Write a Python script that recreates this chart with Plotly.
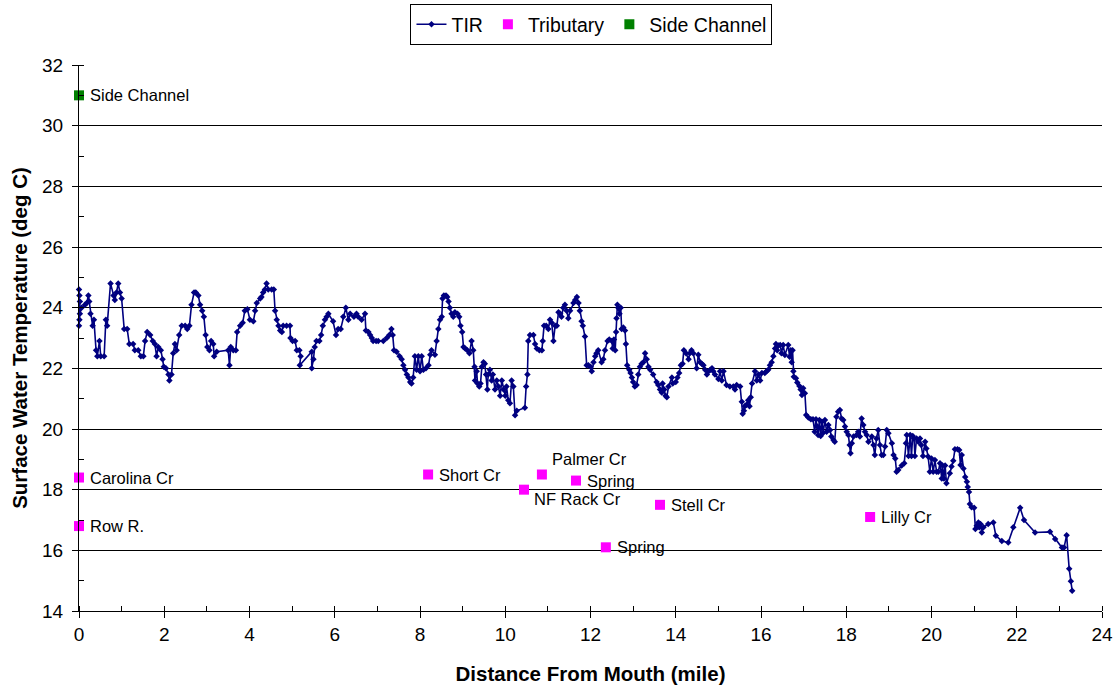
import plotly.graph_objects as go

# ---------------- data ----------------
tir_mile = [
    0.00, 0.00, 0.01, 0.01, 0.02, 0.02, 0.06, 0.14, 0.18, 0.22, 0.24, 0.27, 0.32, 0.35, 0.40, 0.43, 0.48, 0.51, 0.59, 0.63,
    0.66, 0.74, 0.81, 0.84, 0.88, 0.92, 0.96, 1.00, 1.06, 1.13, 1.18, 1.27, 1.31, 1.39, 1.45, 1.51, 1.55, 1.60, 1.67, 1.73,
    1.78, 1.82, 1.86, 1.92, 1.96, 1.99, 2.04, 2.10, 2.12, 2.17, 2.21, 2.25, 2.29, 2.35, 2.41, 2.49, 2.54, 2.59, 2.64, 2.70,
    2.74, 2.80, 2.84, 2.89, 2.93, 2.97, 3.01, 3.06, 3.10, 3.15, 3.17, 3.23, 3.50, 3.53, 3.56, 3.62, 3.68, 3.71, 3.78, 3.84,
    3.89, 3.95, 4.01, 4.09, 4.13, 4.17, 4.25, 4.28, 4.32, 4.36, 4.40, 4.44, 4.52, 4.57, 4.60, 4.64, 4.68, 4.72, 4.76, 4.79,
    4.87, 4.95, 4.96, 5.01, 5.07, 5.11, 5.17, 5.20, 5.18, 5.46, 5.46, 5.50, 5.53, 5.57, 5.64, 5.68, 5.72, 5.77, 5.81, 5.85,
    5.96, 6.03, 6.08, 6.14, 6.20, 6.26, 6.32, 6.36, 6.45, 6.51, 6.55, 6.63, 6.71, 6.73, 6.79, 6.83, 6.87, 6.90, 6.97, 7.02,
    7.14, 7.22, 7.28, 7.33, 7.36, 7.39, 7.45, 7.52, 7.57, 7.61, 7.65, 7.69, 7.73, 7.77, 7.80, 7.84, 7.88, 7.92, 7.96, 8.00,
    8.04, 8.08, 8.14, 8.20, 8.24, 8.27, 8.35, 8.39, 8.43, 8.47, 8.51, 8.53, 8.56, 8.61, 8.64, 8.67, 8.70, 8.74, 8.78, 8.82,
    8.88, 8.92, 8.95, 8.99, 9.02, 9.06, 9.11, 9.16, 9.21, 9.25, 9.28, 9.29, 9.33, 9.35, 9.39, 9.42, 9.45, 9.49, 9.52, 9.55,
    9.58, 9.60, 9.64, 9.68, 9.71, 9.76, 9.80, 9.84, 9.88, 9.92, 9.96, 10.00, 10.03, 10.07, 10.11, 10.15, 10.19, 10.23, 10.27, 10.46,
    10.49, 10.52, 10.54, 10.58, 10.66, 10.70, 10.74, 10.80, 10.86, 10.88, 10.91, 10.96, 11.01, 11.05, 11.09, 11.13, 11.17, 11.21, 11.25, 11.29,
    11.32, 11.36, 11.40, 11.44, 11.48, 11.52, 11.60, 11.64, 11.68, 11.72, 11.75, 11.79, 11.82, 11.87, 11.91, 11.95, 12.00, 12.03, 12.07, 12.11,
    12.14, 12.18, 12.26, 12.30, 12.34, 12.40, 12.44, 12.50, 12.52, 12.55, 12.58, 12.60, 12.61, 12.63, 12.65, 12.68, 12.71, 12.73, 12.77, 12.81,
    12.83, 12.86, 12.91, 12.94, 12.97, 13.00, 13.04, 13.08, 13.12, 13.16, 13.20, 13.24, 13.28, 13.32, 13.36, 13.40, 13.47, 13.55, 13.59, 13.63,
    13.67, 13.69, 13.73, 13.76, 13.79, 13.83, 13.91, 13.93, 14.00, 14.04, 14.08, 14.12, 14.16, 14.19, 14.24, 14.30, 14.33, 14.37, 14.41, 14.49,
    14.53, 14.57, 14.61, 14.65, 14.69, 14.73, 14.77, 14.81, 14.85, 14.88, 14.92, 15.00, 15.04, 15.08, 15.12, 15.19, 15.27, 15.35, 15.39, 15.43,
    15.51, 15.55, 15.57, 15.60, 15.62, 15.66, 15.70, 15.73, 15.76, 15.79, 15.86, 15.90, 15.94, 15.98, 16.02, 16.09, 16.13, 16.17, 16.21, 16.25,
    16.29, 16.33, 16.35, 16.38, 16.41, 16.45, 16.48, 16.52, 16.56, 16.64, 16.67, 16.70, 16.72, 16.74, 16.76, 16.77, 16.82, 16.85, 16.90, 16.93,
    16.96, 16.99, 17.03, 17.06, 17.11, 17.17, 17.22, 17.26, 17.29, 17.32, 17.34, 17.37, 17.40, 17.43, 17.46, 17.50, 17.54, 17.58, 17.62, 17.65,
    17.70, 17.73, 17.77, 17.81, 17.85, 17.89, 17.93, 17.97, 18.01, 18.05, 18.08, 18.10, 18.13, 18.17, 18.24, 18.28, 18.32, 18.36, 18.40, 18.44,
    18.48, 18.52, 18.60, 18.64, 18.67, 18.71, 18.75, 18.79, 18.83, 18.87, 18.91, 18.95, 18.99, 19.07, 19.11, 19.15, 19.18, 19.22, 19.30, 19.36,
    19.40, 19.42, 19.46, 19.50, 19.53, 19.56, 19.59, 19.61, 19.65, 19.69, 19.73, 19.76, 19.80, 19.85, 19.88, 19.92, 19.96, 20.00, 20.04, 20.08,
    20.12, 20.16, 20.20, 20.24, 20.26, 20.29, 20.32, 20.35, 20.43, 20.47, 20.51, 20.55, 20.61, 20.65, 20.68, 20.71, 20.75, 20.79, 20.83, 20.85,
    20.88, 20.90, 20.94, 21.00, 21.03, 21.06, 21.10, 21.12, 21.15, 21.18, 21.22, 21.33, 21.45, 21.51, 21.65, 21.80, 21.92, 22.08, 22.17, 22.43,
    22.78, 22.90, 23.06, 23.11, 23.17, 23.23, 23.27, 23.30,
]
tir_temp = [
    24.6, 23.4, 24.4, 23.6, 24.2, 23.8, 24.0, 24.1, 24.15, 24.4, 24.2, 23.8, 23.4, 23.6, 22.6, 22.4, 22.9, 22.4, 22.4, 23.6,
    23.4, 24.8, 24.4, 24.25, 24.5, 24.8, 24.5, 24.3, 23.3, 23.3, 22.8, 22.8, 22.6, 22.6, 22.4, 22.4, 22.9, 23.2, 23.1, 22.9,
    22.8, 22.4, 22.7, 22.6, 22.3, 22.05, 22.0, 21.8, 21.6, 21.8, 22.5, 22.8, 22.6, 23.1, 23.4, 23.4, 23.3, 23.4, 24.1, 24.5,
    24.5, 24.4, 24.1, 23.9, 23.7, 23.1, 22.7, 22.6, 22.9, 22.8, 22.4, 22.55, 22.6, 22.1, 22.7, 22.6, 22.6, 23.2, 23.4, 23.5,
    23.9, 23.95, 23.6, 23.55, 23.9, 24.15, 24.3, 24.35, 24.5, 24.6, 24.8, 24.6, 24.6, 24.6, 23.9, 23.6, 23.4, 23.25, 23.2, 23.4,
    23.4, 23.4, 23.0, 22.9, 22.9, 22.6, 22.6, 22.4, 22.1, 22.55, 22.0, 22.3, 22.7, 22.9, 22.9, 23.1, 23.4, 23.6, 23.7, 23.8,
    23.55, 23.1, 23.3, 23.3, 23.7, 24.0, 23.6, 23.8, 23.7, 23.8, 23.7, 23.6, 23.8, 23.25, 23.2, 23.1, 23.0, 22.9, 22.9, 22.9,
    22.9, 23.0, 23.1, 23.3, 23.1, 22.6, 22.55, 22.4, 22.3, 22.1, 21.95, 21.8, 21.7, 21.55, 21.5, 21.7, 22.4, 21.95, 22.4, 21.9,
    22.4, 21.95, 22.0, 22.1, 22.45, 22.6, 22.45, 22.9, 23.3, 23.6, 23.7, 24.3, 24.4, 24.4, 24.35, 24.2, 24.0, 23.8, 23.7, 23.85,
    23.8, 23.7, 23.4, 23.2, 22.7, 22.65, 22.6, 22.5, 22.9, 22.6, 22.05, 21.6, 21.9, 21.5, 21.4, 21.5, 22.05, 22.2, 22.15, 21.8,
    21.3, 21.8, 21.95, 21.6, 21.8, 21.3, 21.6, 21.4, 21.1, 21.6, 21.3, 21.1, 21.4, 20.95, 20.85, 21.6, 21.4, 20.45, 20.6, 20.7,
    21.4, 21.8, 22.9, 23.1, 23.1, 22.8, 22.65, 22.6, 22.6, 22.9, 23.4, 23.4, 23.3, 23.6, 23.5, 22.9, 23.4, 23.4, 23.85, 23.8,
    23.7, 24.0, 24.1, 23.9, 23.65, 23.9, 24.15, 24.25, 24.35, 24.15, 23.9, 23.55, 23.4, 23.05, 22.1, 22.1, 22.05, 21.9, 22.2, 22.4,
    22.5, 22.6, 22.2, 22.3, 22.6, 22.9, 22.95, 22.9, 22.65, 22.95, 22.6, 23.2, 23.65, 24.1, 24.0, 23.8, 24.0, 23.3, 23.35, 23.25,
    22.8, 22.1, 21.95, 21.85, 21.7, 21.55, 21.4, 21.45, 21.8, 22.05, 22.15, 22.2, 22.5, 22.3, 22.05, 21.95, 21.8, 21.55, 21.45, 21.3,
    21.2, 21.5, 21.3, 21.1, 21.05, 21.4, 21.7, 21.5, 21.55, 21.7, 21.85, 22.1, 22.15, 22.6, 22.5, 22.3, 22.5, 22.6, 22.5, 22.0,
    22.45, 22.2, 22.15, 22.1, 21.95, 21.8, 21.9, 21.95, 22.0, 21.9, 21.8, 21.65, 21.9, 21.6, 21.9, 21.45, 21.4, 21.4, 21.3, 21.45,
    21.4, 20.9, 20.5, 20.6, 20.75, 20.8, 20.95, 20.75, 21.05, 21.5, 21.9, 21.6, 21.8, 21.6, 21.85, 21.85, 21.9, 21.95, 22.1, 22.2,
    22.4, 22.65, 22.8, 22.6, 22.75, 22.77, 22.5, 22.77, 22.44, 22.77, 22.38, 22.6, 22.2, 22.6, 21.9, 21.72, 21.67, 21.53, 21.42, 21.3,
    21.12, 21.34, 21.18, 20.46, 20.38, 20.32, 20.32, 19.91, 20.32, 20.08, 19.8, 20.3, 19.77, 20.24, 19.88, 20.3, 19.91, 20.13, 19.97, 19.75,
    19.64, 19.58, 20.4, 20.57, 20.63, 20.35, 20.3, 20.08, 19.91, 19.8, 19.47, 19.2, 19.53, 19.75, 19.8, 19.91, 19.75, 20.35, 20.13, 19.91,
    19.8, 19.58, 19.75, 19.47, 19.14, 19.69, 19.97, 19.47, 19.14, 19.14, 19.42, 19.97, 19.86, 19.53, 19.14, 19.03, 18.59, 18.65, 18.8, 18.87,
    19.53, 19.8, 19.11, 19.8, 19.11, 19.77, 19.69, 19.11, 19.69, 19.58, 19.69, 19.47, 19.11, 19.58, 19.36, 19.09, 18.59, 19.03, 18.59, 18.98,
    18.59, 18.59, 18.87, 18.37, 18.8, 18.37, 18.8, 18.21, 18.54, 18.76, 18.95, 19.33, 19.33, 19.31, 18.81, 19.14, 18.7, 18.42, 18.26, 18.09,
    17.92, 17.53, 17.42, 17.4, 16.7, 16.81, 16.92, 16.76, 16.87, 16.59, 16.76, 16.87, 16.92, 16.48, 16.31, 16.26, 16.76, 17.4, 17.0, 16.59,
    16.61, 16.37, 16.09, 16.09, 16.5, 15.39, 14.98, 14.67,
]

trib_names = ["Carolina Cr", "Row R.", "Short Cr", "NF Rack Cr", "Palmer Cr", "Spring", "Spring", "Stell Cr", "Lilly Cr"]
trib_mile = [0.0, 0.0, 8.19, 10.44, 10.86, 11.66, 12.36, 13.63, 18.56]
trib_temp = [18.4, 16.8, 18.5, 18.0, 18.5, 18.3, 16.1, 17.5, 17.1]

side_names = ["Side Channel"]
side_mile = [0.0]
side_temp = [31.0]

x_title = "Distance From Mouth (mile)"
y_title = "Surface Water Temperature (deg C)"

# ---------------- style ----------------
FONT = "Liberation Sans, Arial, sans-serif"
NAVY = "#000080"
MAGENTA = "#FF00FF"
GREEN = "#008000"
X_RANGE = [0, 24]
Y_RANGE = [14, 32]
# label offsets (pixels) relative to their marker
label_shift = {3: (8, -9), 4: (8, 16)}

fig = go.Figure()

fig.add_trace(go.Scatter(
    x=tir_mile, y=tir_temp, name="TIR", mode="lines+markers",
    line=dict(color=NAVY, width=1.6),
    marker=dict(symbol="diamond", size=5, color=NAVY),
    cliponaxis=False,
))
fig.add_trace(go.Scatter(
    x=trib_mile, y=trib_temp, name="Tributary", mode="markers",
    marker=dict(symbol="square", size=10, color=MAGENTA),
    cliponaxis=False,
))
fig.add_trace(go.Scatter(
    x=side_mile, y=side_temp, name="Side Channel", mode="markers",
    marker=dict(symbol="square", size=10, color=GREEN),
    cliponaxis=False,
))
# empty helper trace so the overlay axes (inner half of the crossing ticks) are drawn
fig.add_trace(go.Scatter(x=[None], y=[None], xaxis="x2", yaxis="y2",
                         showlegend=False, hoverinfo="skip"))

annotations = []
for i, (nm, xm, yt) in enumerate(zip(trib_names, trib_mile, trib_temp)):
    dx, dy = label_shift.get(i, (9, 0))
    annotations.append(dict(x=xm, y=yt, xref="x", yref="y", text=nm, showarrow=False,
                            xanchor="left", yanchor="middle", xshift=dx, yshift=dy,
                            font=dict(family=FONT, size=16.5, color="black")))
for nm, xm, yt in zip(side_names, side_mile, side_temp):
    annotations.append(dict(x=xm, y=yt, xref="x", yref="y", text=nm, showarrow=False,
                            xanchor="left", yanchor="middle", xshift=9,
                            font=dict(family=FONT, size=16.5, color="black")))

fig.update_layout(
    width=1116, height=688,
    margin=dict(l=79, r=14, t=65, b=77, autoexpand=False),
    paper_bgcolor="white", plot_bgcolor="white",
    font=dict(family=FONT, size=19, color="black"),
    showlegend=True,
    legend=dict(orientation="h", x=0.53, xanchor="center", xref="container",
                y=0.994, yanchor="top", yref="container",
                bordercolor="black", borderwidth=1, bgcolor="white",
                font=dict(family=FONT, size=19.5), itemwidth=30, tracegroupgap=0),
    annotations=annotations,
    xaxis=dict(
        range=X_RANGE, dtick=2, tick0=0, showgrid=False, zeroline=False,
        showline=True, linecolor="black", linewidth=1, automargin=False,
        ticks="outside", ticklen=6, tickcolor="black",
        minor=dict(dtick=1, ticks="inside", ticklen=5, tickcolor="black", showgrid=False),
        tickfont=dict(family=FONT, size=19),
        title=dict(text="<b>" + x_title + "</b>", font=dict(family=FONT, size=20.5), standoff=22),
    ),
    yaxis=dict(
        range=Y_RANGE, dtick=2, tick0=14, showgrid=True, gridcolor="black", gridwidth=1,
        zeroline=False, showline=True, linecolor="black", linewidth=1, automargin=False,
        ticks="outside", ticklen=6, tickcolor="black", ticklabelstandoff=5,
        minor=dict(dtick=1, ticks="inside", ticklen=5, tickcolor="black", showgrid=False),
        tickfont=dict(family=FONT, size=19),
        title=dict(text="<b>" + y_title + "</b>", font=dict(family=FONT, size=20.5), standoff=8),
    ),
    xaxis2=dict(
        overlaying="x", side="bottom", range=X_RANGE, dtick=2, tick0=0,
        showgrid=False, zeroline=False, showline=False, showticklabels=False,
        ticks="inside", ticklen=5, tickcolor="black", automargin=False,
    ),
    yaxis2=dict(
        overlaying="y", side="left", range=Y_RANGE, dtick=2, tick0=14,
        showgrid=False, zeroline=False, showline=False, showticklabels=False,
        ticks="inside", ticklen=5, tickcolor="black", automargin=False,
    ),
)

fig.write_html("out.html", config={"displayModeBar": False},
               post_script="document.body.style.margin='0';")
